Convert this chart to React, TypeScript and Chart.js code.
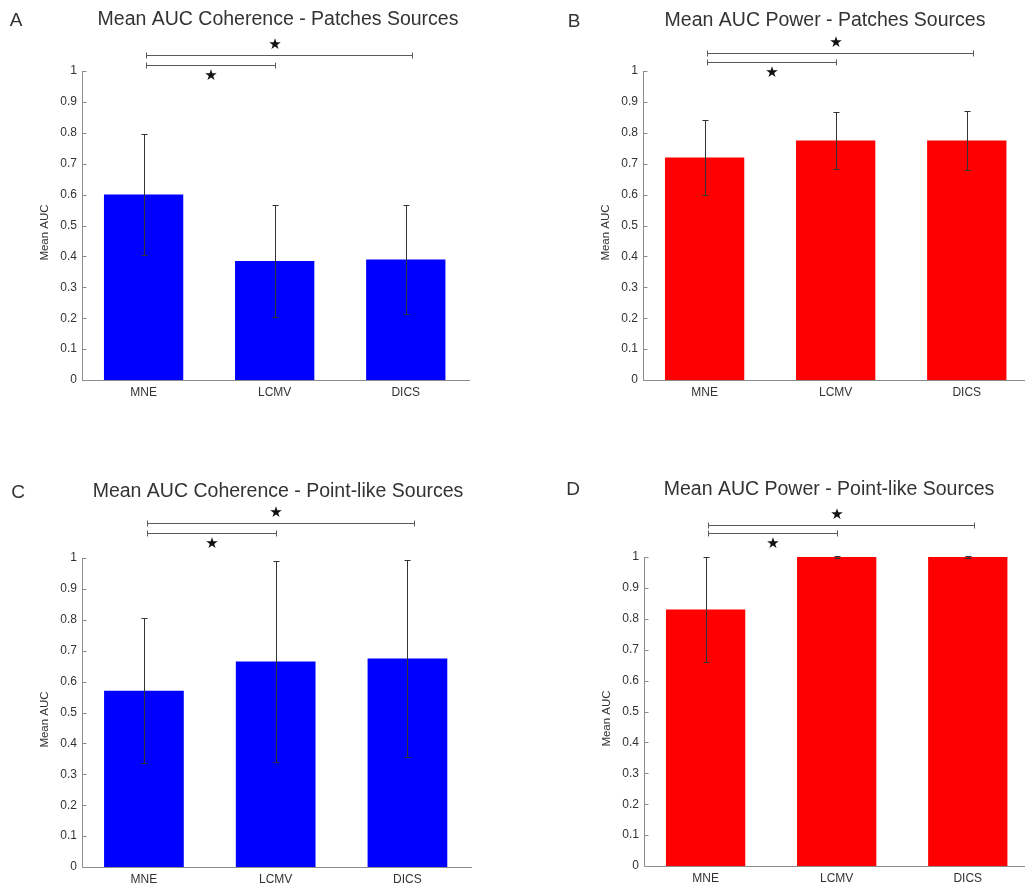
import React, { useEffect, useRef } from "react";
import { Chart, registerables } from "chart.js";

Chart.register(...registerables);

// ---------- data ----------
const categories = ["MNE", "LCMV", "DICS"];

const coherencePatchesMean = [0.6, 0.385, 0.39];
const coherencePatchesErr = [0.195, 0.18, 0.175];

const powerPatchesMean = [0.72, 0.775, 0.775];
const powerPatchesErr = [0.12, 0.092, 0.094];

const coherencePointMean = [0.57, 0.665, 0.675];
const coherencePointErr = [0.235, 0.325, 0.32];

const powerPointMean = [0.83, 1.0, 1.0];
const powerPointErr = [0.17, 0.002, 0.002];

// significance comparisons (category index pairs), same in every panel
const sigPairs = [
  [0, 2],
  [0, 1],
];

const panelTitles = [
  "Mean AUC Coherence - Patches Sources",
  "Mean AUC Power - Patches Sources",
  "Mean AUC Coherence - Point-like Sources",
  "Mean AUC Power - Point-like Sources",
];
const panelLetters = ["A", "B", "C", "D"];
const yAxisTitle = "Mean AUC";

// ---------- layout / style ----------
const FONT = '"Liberation Sans", Arial, Helvetica, sans-serif';
const BLUE = "#0000ff";
const RED = "#ff0000";

type Layout = {
  left: number;
  top: number;
  w: number;
  h: number;
  areaLeft: number;
  areaTop: number;
  areaRight: number;
  areaBottom: number;
  titleX: number;
  titleY: number;
  letterX: number;
  letterY: number;
  bracketLevels: number[]; // in value units
};

const layouts: Layout[] = [
  { left: 0, top: 0, w: 512, h: 443, areaLeft: 82, areaTop: 71, areaRight: 470, areaBottom: 380, titleX: 278, titleY: 20, letterX: 16, letterY: 21, bracketLevels: [1.052, 1.02] },
  { left: 512, top: 0, w: 540, h: 443, areaLeft: 131, areaTop: 71, areaRight: 519, areaBottom: 380, titleX: 313, titleY: 21, letterX: 62, letterY: 22, bracketLevels: [1.058, 1.029] },
  { left: 0, top: 443, w: 512, h: 443, areaLeft: 82, areaTop: 115, areaRight: 472, areaBottom: 424, titleX: 278, titleY: 49, letterX: 18, letterY: 50, bracketLevels: [1.113, 1.081] },
  { left: 512, top: 443, w: 540, h: 443, areaLeft: 132, areaTop: 114, areaRight: 520, areaBottom: 423, titleX: 317, titleY: 47, letterX: 61, letterY: 47, bracketLevels: [1.104, 1.078] },
];

// x range (category positions 1..3, MATLAB-like limits)
const X_MIN = 0.53;
const X_MAX = 3.49;

const panels = [
  { mean: coherencePatchesMean, err: coherencePatchesErr, color: BLUE },
  { mean: powerPatchesMean, err: powerPatchesErr, color: RED },
  { mean: coherencePointMean, err: coherencePointErr, color: BLUE },
  { mean: powerPointMean, err: powerPointErr, color: RED },
];

function Panel({ idx }: { idx: number }) {
  const ref = useRef<HTMLCanvasElement | null>(null);
  const L = layouts[idx];
  const P = panels[idx];

  useEffect(() => {
    if (!ref.current) return;
    const overlay = {
      id: "overlay" + idx,
      afterDraw(chart: any) {
        const ctx = chart.ctx as CanvasRenderingContext2D;
        const x = chart.scales.x;
        const y = chart.scales.y;
        const area = chart.chartArea;
        ctx.save();

        // error bars
        ctx.strokeStyle = "#333333";
        ctx.lineWidth = 1;
        P.mean.forEach((m, i) => {
          const cx = Math.round(x.getPixelForValue(i + 1)) + 0.5;
          const yt = Math.round(y.getPixelForValue(m + P.err[i])) + 0.5;
          const yb = Math.round(y.getPixelForValue(m - P.err[i])) + 0.5;
          ctx.beginPath();
          ctx.moveTo(cx, yt);
          ctx.lineTo(cx, yb);
          ctx.moveTo(cx - 3, yt);
          ctx.lineTo(cx + 3, yt);
          ctx.moveTo(cx - 3, yb);
          ctx.lineTo(cx + 3, yb);
          ctx.stroke();
        });

        // axes
        ctx.strokeStyle = "#8c8c8c";
        ctx.beginPath();
        const ax = Math.round(area.left) + 0.5;
        const ay = Math.round(area.bottom) + 0.5;
        ctx.moveTo(ax, Math.round(area.top));
        ctx.lineTo(ax, ay);
        ctx.lineTo(Math.round(area.right), ay);
        // inward ticks
        y.ticks.forEach((t: any) => {
          const py = Math.round(y.getPixelForValue(t.value)) + 0.5;
          ctx.moveTo(ax, py);
          ctx.lineTo(ax + 4, py);
        });
        ctx.stroke();

        // y title
        ctx.fillStyle = "#333333";
        ctx.font = `11.5px ${FONT}`;
        ctx.textAlign = "center";
        ctx.textBaseline = "middle";
        ctx.save();
        ctx.translate(area.left - 37, (area.top + area.bottom) / 2 + 7);
        ctx.rotate(-Math.PI / 2);
        ctx.fillText(yAxisTitle, 0, 0);
        ctx.restore();

        // title and letter
        ctx.font = `19.5px ${FONT}`;
        ctx.fillStyle = "#333333";
        ctx.textAlign = "center";
        ctx.fillText(panelTitles[idx], L.titleX, L.titleY);
        ctx.font = `19px ${FONT}`;
        ctx.fillText(panelLetters[idx], L.letterX, L.letterY);

        // significance brackets
        ctx.strokeStyle = "#5a5a5a";
        ctx.lineWidth = 1;
        sigPairs.forEach((pair, k) => {
          const x1 = Math.round(x.getPixelForValue(pair[0] + 1.02)) + 0.5;
          const x2 = Math.round(x.getPixelForValue(pair[1] + (pair[1] === 2 ? 1.05 : 1))) + 0.5;
          const py = Math.round(y.getPixelForValue(L.bracketLevels[k])) + 0.5;
          ctx.beginPath();
          ctx.moveTo(x1, py);
          ctx.lineTo(x2, py);
          ctx.moveTo(x1, py - 3);
          ctx.lineTo(x1, py + 3);
          ctx.moveTo(x2, py - 3);
          ctx.lineTo(x2, py + 3);
          ctx.stroke();
          const sx = k === 0 ? Math.round(x.getPixelForValue(2)) : (x1 + x2) / 2;
          const sy = k === 0 ? py - 10 : py + 11;
          ctx.fillStyle = "#111111";
          ctx.font = `15px "DejaVu Sans", sans-serif`;
          ctx.textAlign = "center";
          ctx.textBaseline = "middle";
          ctx.fillText("★", sx, sy);
        });

        ctx.restore();
      },
    };

    const chart = new Chart(ref.current, {
      type: "bar",
      data: {
        datasets: [
          {
            data: P.mean.map((m, i) => ({ x: i + 1, y: m })),
            backgroundColor: P.color,
            borderWidth: 0,
            barPercentage: 0.605,
            categoryPercentage: 1,
          },
        ],
      },
      options: {
        animation: false,
        responsive: false,
        maintainAspectRatio: false,
        layout: { padding: { top: L.areaTop, right: L.w - L.areaRight, left: 0, bottom: 0 } },
        plugins: { legend: { display: false }, tooltip: { enabled: false }, title: { display: false } },
        scales: {
          x: {
            type: "linear",
            min: X_MIN,
            max: X_MAX,
            offset: false,
            grid: { display: false, drawTicks: false },
            border: { display: false },
            afterBuildTicks: (s: any) => {
              s.ticks = categories.map((_, i) => ({ value: i + 1 }));
            },
            ticks: {
              color: "#333333",
              font: { family: FONT, size: 12 },
              padding: 5,
              maxRotation: 0,
              autoSkip: false,
              callback: (v: any) => categories[Math.round(Number(v)) - 1] ?? "",
            },
            afterFit: (s: any) => {
              s.height = L.h - L.areaBottom;
            },
          },
          y: {
            min: 0,
            max: 1,
            grid: { display: false, drawTicks: false },
            border: { display: false },
            ticks: {
              stepSize: 0.1,
              color: "#333333",
              font: { family: FONT, size: 12 },
              padding: 5,
              callback: (v: any) => String(Math.round(Number(v) * 10) / 10),
            },
            afterFit: (s: any) => {
              s.width = L.areaLeft;
            },
          },
        },
      } as any,
      plugins: [overlay],
    });
    return () => chart.destroy();
  }, [idx]);

  return (
    <canvas
      ref={ref}
      width={L.w}
      height={L.h}
      style={{ position: "absolute", left: L.left, top: L.top, width: L.w, height: L.h }}
    />
  );
}

export default function App() {
  return (
    <div
      style={{
        position: "absolute",
        left: 0,
        top: 0,
        width: 1025,
        height: 886,
        overflow: "hidden",
        background: "#ffffff",
      }}
    >
      {[0, 1, 2, 3].map((i) => (
        <Panel key={i} idx={i} />
      ))}
    </div>
  );
}
